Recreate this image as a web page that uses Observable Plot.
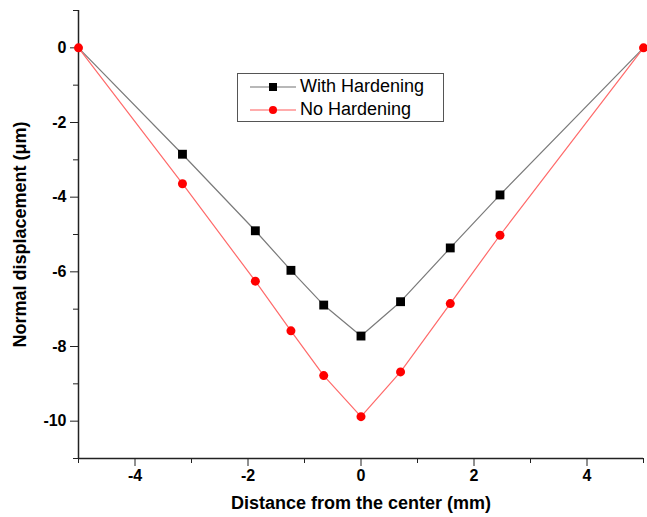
<!DOCTYPE html>
<html>
<head>
<meta charset="utf-8">
<script src="https://cdn.jsdelivr.net/npm/d3@7"></script>
<script src="https://cdn.jsdelivr.net/npm/@observablehq/plot@0.6"></script>
<style>
  html, body { margin: 0; padding: 0; background: #fff; }
  #wrap { position: relative; width: 647px; height: 517px; }
  #legend {
    position: absolute; left: 237px; top: 73px; width: 207px; height: 49px;
    border: 1px solid #555; box-sizing: border-box; background: #fff;
    font-family: "Liberation Sans", Arial, sans-serif; font-size: 18px; color: #000;
    padding: 1px 0 0 12px;
  }
  #legend .row { display: flex; align-items: center; height: 23px; }
  #legend svg { margin-right: 4px; }
</style>
</head>
<body>
<div id="wrap"></div>
<script>
const distance = [-5, -3.16, -1.87, -1.24, -0.66, 0, 0.70, 1.58, 2.46, 5];
const withHardening = [0, -2.85, -4.90, -5.96, -6.89, -7.72, -6.80, -5.36, -3.94, 0];
const noHardening = [0, -3.64, -6.25, -7.58, -8.78, -9.88, -8.68, -6.85, -5.02, 0];
const xMajorTicks = [-4, -2, 0, 2, 4];
const xMinorTicks = [-5, -3, -1, 1, 3, 5];
const yMajorTicks = [0, -2, -4, -6, -8, -10];
const yMinorTicks = [1, -1, -3, -5, -7, -9, -11];
const seriesNames = ["With Hardening", "No Hardening"];

const withData = distance.map((d, i) => ({x: d, y: withHardening[i]}));
const noData = distance.map((d, i) => ({x: d, y: noHardening[i]}));

const font = "'Liberation Sans', Arial, sans-serif";

const chart = Plot.plot({
  width: 647,
  height: 517,
  marginLeft: 78,
  marginRight: 4,
  marginTop: 10,
  marginBottom: 59,
  style: {fontFamily: font, fontSize: "16px", fontWeight: "bold", color: "#000", background: "#fff"},
  x: {domain: [-5, 5]},
  y: {domain: [-11, 1]},
  marks: [
    Plot.axisX({ticks: xMajorTicks, tickSize: 8, tickPadding: 3, tickFormat: d => String(d),
      label: null, fontSize: 16, stroke: "#222"}),
    Plot.axisX({ticks: xMinorTicks, tickSize: 5, tickFormat: null, label: null, text: null, stroke: "#222"}),
    Plot.axisY({ticks: yMajorTicks, tickSize: 8, tickPadding: 4, tickFormat: d => String(d),
      label: null, fontSize: 16, stroke: "#222"}),
    Plot.axisY({ticks: yMinorTicks, tickSize: 5, tickFormat: null, label: null, text: null, stroke: "#222"}),
    Plot.text(["Distance from the center (mm)"], {frameAnchor: "bottom", dy: 50, fontSize: 18, fontWeight: "bold", fill: "#000"}),
    Plot.text(["Normal displacement (\u03bcm)"], {frameAnchor: "left", dx: -58, rotate: -90, textAnchor: "middle", fontSize: 18, fontWeight: "bold", fill: "#000"}),
    Plot.ruleX([-5], {stroke: "#222", strokeWidth: 1.5}),
    Plot.ruleY([-11], {stroke: "#222", strokeWidth: 1.5}),
    Plot.line(withData, {x: "x", y: "y", stroke: "#7a7a7a", strokeWidth: 1.2}),
    Plot.line(noData, {x: "x", y: "y", stroke: "#ff6a6a", strokeWidth: 1.2}),
    Plot.dot(withData.slice(1, -1), {x: "x", y: "y", symbol: "square", r: 5, fill: "#000", stroke: "none"}),
    Plot.dot(noData, {x: "x", y: "y", r: 4.5, fill: "#ff0000", stroke: "none"})
  ]
});

document.getElementById("wrap").appendChild(chart);

const legend = document.createElement("div");
legend.id = "legend";
const swatch = (line, marker) => `<svg width="46" height="12"><line x1="0" y1="6" x2="46" y2="6" stroke="${line}" stroke-width="1.5"/>${marker}</svg>`;
legend.innerHTML =
  `<div class="row">${swatch("#a0a0a0", '<rect x="19" y="2" width="8" height="8" fill="#000"/>')}<span>${seriesNames[0]}</span></div>` +
  `<div class="row">${swatch("#ff9090", '<circle cx="23" cy="6" r="4" fill="#ff0000"/>')}<span>${seriesNames[1]}</span></div>`;
document.getElementById("wrap").appendChild(legend);
</script>
</body>
</html>
